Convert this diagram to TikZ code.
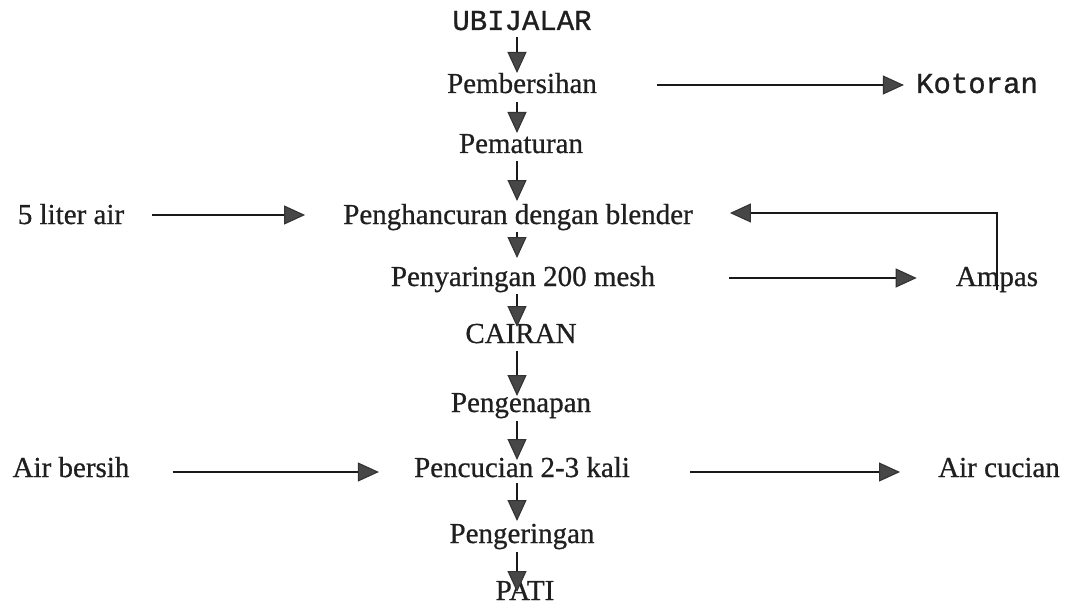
\documentclass[tikz,border=0pt]{standalone}
\usepackage{fontspec}
\setmainfont{Liberation Serif}[UprightFeatures={FakeBold=0.7}]
\newfontfamily\courfont{Liberation Mono}[UprightFeatures={FakeBold=0.9}]
\usetikzlibrary{arrows.meta,calc}
\begin{document}
\begin{tikzpicture}[x=1pt,y=-1pt,
  lbl/.style={anchor=base,inner sep=0pt,text=black!88,font=\fontsize{29}{32}\selectfont},
  mono/.style={anchor=base,inner sep=0pt,text=black!88,font=\courfont\fontsize{29}{32}\selectfont},
  flow/.style={draw=black!90,line width=1.1pt,-{Triangle[length=21pt,width=19pt,color=black!80,fill=black!72]}}]
\useasboundingbox (0,0) rectangle (1065,607);
\coordinate (sp) at (517,0);
% main column
\node[mono] (ubi) at (522,30) {UBIJALAR};
\node[lbl] (pem) at (522,93) {Pembersihan};
\node[lbl] (mat) at (521,153) {Pematuran};
\node[lbl] (pengh) at (518,224) {Penghancuran dengan blender};
\node[lbl] (saring) at (523,286) {Penyaringan 200 mesh};
\node[lbl] (cair) at (521,343) {CAIRAN};
\node[lbl] (endap) at (521,412) {Pengenapan};
\node[lbl] (cuci) at (522,477) {Pencucian 2-3 kali};
\node[lbl] (kering) at (522,543) {Pengeringan};
\node[lbl] (pati) at (525,600) {PATI};
% side items
\node[mono] (kot) at (977,93) {Kotoran};
\node[lbl] (lit) at (71,224) {5 liter air};
\node[lbl] (ampas) at (997,286) {Ampas};
\node[lbl] (bersih) at (71,477) {Air bersih};
\node[lbl] (cucian) at (999,477) {Air cucian};
% vertical flow
\draw[flow] ($(ubi.base -| sp)+(0,7)$) -- ($(pem.base -| sp)+(0,-20)$);
\draw[flow] ($(pem.base -| sp)+(0,9)$) -- ($(mat.base -| sp)+(0,-20)$);
\draw[flow] ($(mat.base -| sp)+(0,8)$) -- ($(pengh.base -| sp)+(0,-23)$);
\draw[flow] ($(pengh.base -| sp)+(0,8)$) -- ($(saring.base -| sp)+(0,-28)$);
\draw[flow] ($(saring.base -| sp)+(0,8)$) -- ($(cair.base -| sp)+(0,-16)$);
\draw[flow] ($(cair.base -| sp)+(0,8)$) -- ($(endap.base -| sp)+(0,-16)$);
\draw[flow] ($(endap.base -| sp)+(0,9)$) -- ($(cuci.base -| sp)+(0,-17)$);
\draw[flow] ($(cuci.base -| sp)+(0,6)$) -- ($(kering.base -| sp)+(0,-22)$);
\draw[flow] ($(kering.base -| sp)+(0,9)$) -- ($(pati.base -| sp)+(0,-8)$);
% horizontal flows
\draw[flow] ($(pem.base east)+(60,-8)$) -- ($(kot.base west)+(-12,-8)$);
\draw[flow] ($(lit.base east)+(28,-9)$) -- ($(pengh.base west)+(-38,-9)$);
\draw[flow] ($(saring.base east)+(74,-8)$) -- ($(ampas.base west)+(-39,-8)$);
\draw[flow] ($(ampas.base)+(0,4)$) |- ($(pengh.base east)+(37,-11)$);
\draw[flow] ($(bersih.base east)+(43,-5)$) -- ($(cuci.base west)+(-35,-5)$);
\draw[flow] ($(cuci.base east)+(60,-5)$) -- ($(cucian.base west)+(-38,-5)$);
\end{tikzpicture}
\end{document}
